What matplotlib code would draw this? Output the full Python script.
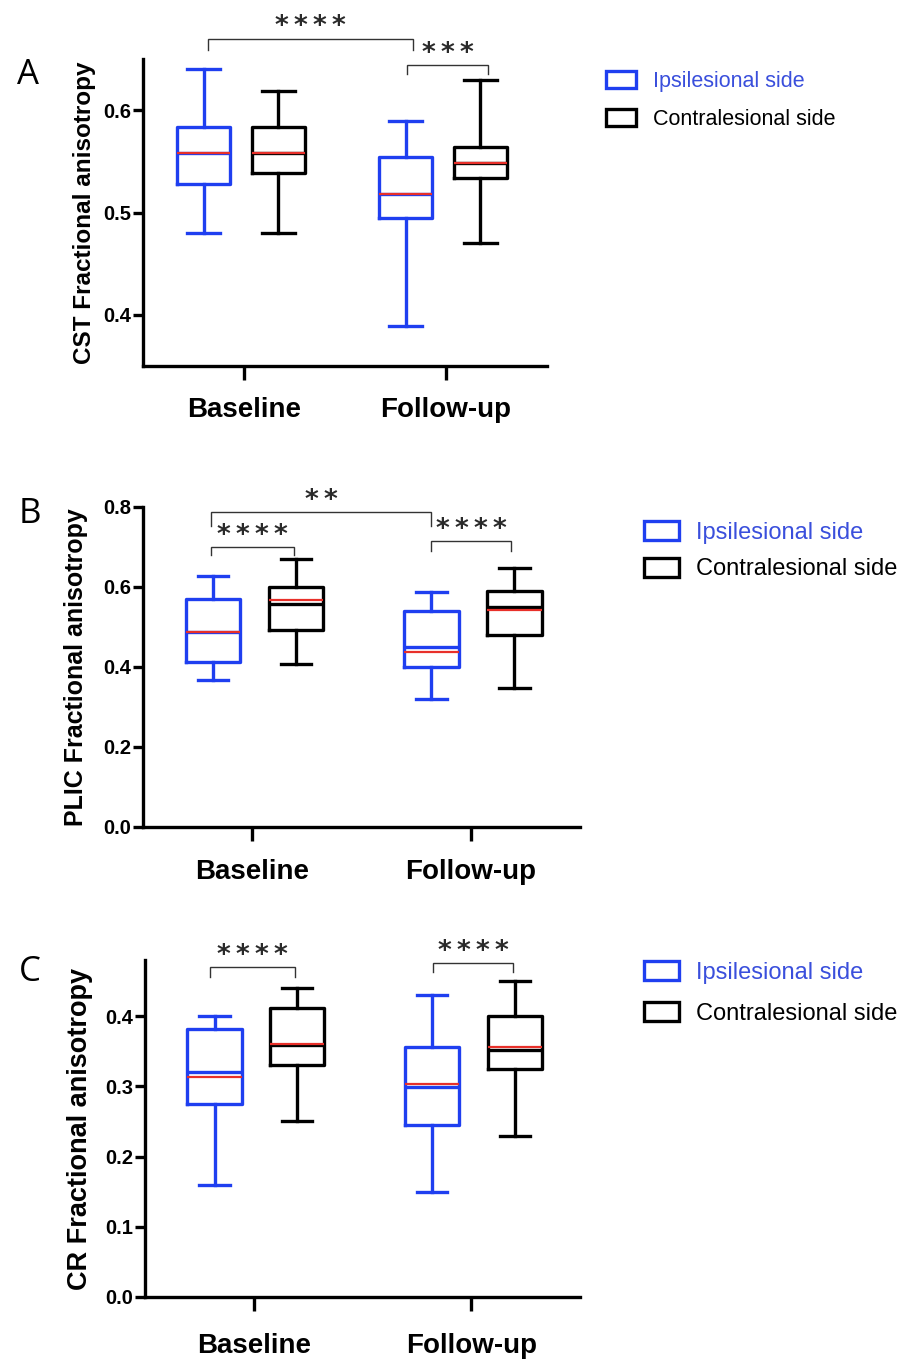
import matplotlib
matplotlib.use('Agg')
import matplotlib.pyplot as plt
from matplotlib.patches import Patch

plt.rcParams['font.family'] = ['Liberation Sans', 'DejaVu Sans']

groups = ['Baseline', 'Follow-up']
sides = ['Ipsilesional side', 'Contralesional side']

# ---- Panel A: CST fractional anisotropy (values for Baseline, Follow-up)
a_ipsi_whislo = [0.480, 0.389]
a_ipsi_q1 = [0.528, 0.495]
a_ipsi_med = [0.558, 0.518]
a_ipsi_mean = [0.558, 0.518]
a_ipsi_q3 = [0.584, 0.554]
a_ipsi_whishi = [0.640, 0.589]
a_con_whislo = [0.480, 0.470]
a_con_q1 = [0.539, 0.534]
a_con_med = [0.558, 0.548]
a_con_mean = [0.558, 0.548]
a_con_q3 = [0.584, 0.564]
a_con_whishi = [0.619, 0.629]

# ---- Panel B: PLIC fractional anisotropy
b_ipsi_whislo = [0.368, 0.320]
b_ipsi_q1 = [0.413, 0.400]
b_ipsi_med = [0.488, 0.450]
b_ipsi_mean = [0.488, 0.438]
b_ipsi_q3 = [0.570, 0.540]
b_ipsi_whishi = [0.628, 0.588]
b_con_whislo = [0.408, 0.348]
b_con_q1 = [0.493, 0.480]
b_con_med = [0.558, 0.550]
b_con_mean = [0.568, 0.543]
b_con_q3 = [0.600, 0.590]
b_con_whishi = [0.670, 0.648]

# ---- Panel C: CR fractional anisotropy
c_ipsi_whislo = [0.160, 0.150]
c_ipsi_q1 = [0.275, 0.245]
c_ipsi_med = [0.321, 0.299]
c_ipsi_mean = [0.313, 0.303]
c_ipsi_q3 = [0.382, 0.356]
c_ipsi_whishi = [0.400, 0.430]
c_con_whislo = [0.250, 0.230]
c_con_q1 = [0.330, 0.325]
c_con_med = [0.359, 0.352]
c_con_mean = [0.360, 0.356]
c_con_q3 = [0.412, 0.400]
c_con_whishi = [0.440, 0.450]

# significance brackets: (x_left, x_right, y_bar, y_tip, label)
a_sig = [(0.82, 1.837, 0.670, 0.659, '****'), (1.807, 2.208, 0.644, 0.635, '***')]
b_sig = [(0.81, 1.82, 0.7875, 0.752, '**'), (0.81, 1.19, 0.700, 0.680, '****'),
         (1.82, 2.185, 0.715, 0.690, '****')]
c_sig = [(0.80, 1.19, 0.470, 0.456, '****'), (1.825, 2.19, 0.476, 0.463, '****')]

panels = [
    dict(letter='A', ylabel='CST Fractional anisotropy',
         ipsi=(a_ipsi_whislo, a_ipsi_q1, a_ipsi_med, a_ipsi_mean, a_ipsi_q3, a_ipsi_whishi),
         con=(a_con_whislo, a_con_q1, a_con_med, a_con_mean, a_con_q3, a_con_whishi),
         sig=a_sig, ylim=(0.35, 0.65), yticks=[0.4, 0.5, 0.6],
         rect=[143/917, 1-366/1359, 404/917, 307/1359],
         off=(-0.20, 0.17), width=0.26, cap=0.16, ylsize=17.5, ylx=-0.117, xpad=12,
         leg=dict(anchor=(606/917, 1-71/1359), fs=15.5, hl=1.40, hh=0.85, htp=0.78, ls=0.78),
         letter_xy=(28/917, 1-75/1359)),
    dict(letter='B', ylabel='PLIC Fractional anisotropy',
         ipsi=(b_ipsi_whislo, b_ipsi_q1, b_ipsi_med, b_ipsi_mean, b_ipsi_q3, b_ipsi_whishi),
         con=(b_con_whislo, b_con_q1, b_con_med, b_con_mean, b_con_q3, b_con_whishi),
         sig=b_sig, ylim=(0.0, 0.8), yticks=[0.0, 0.2, 0.4, 0.6, 0.8],
         rect=[143/917, 1-827/1359, 437/917, 320/1359],
         off=(-0.18, 0.20), width=0.25, cap=0.14, ylsize=18, ylx=-0.125, xpad=13,
         leg=dict(anchor=(644/917, 1-521/1359), fs=17, hl=1.48, hh=0.85, htp=0.72, ls=0.6),
         letter_xy=(30/917, 1-514/1359)),
    dict(letter='C', ylabel='CR Fractional anisotropy',
         ipsi=(c_ipsi_whislo, c_ipsi_q1, c_ipsi_med, c_ipsi_mean, c_ipsi_q3, c_ipsi_whishi),
         con=(c_con_whislo, c_con_q1, c_con_med, c_con_mean, c_con_q3, c_con_whishi),
         sig=c_sig, ylim=(0.0, 0.48), yticks=[0.0, 0.1, 0.2, 0.3, 0.4],
         rect=[145/917, 1-1297/1359, 435/917, 337/1359],
         off=(-0.18, 0.20), width=0.25, cap=0.14, ylsize=19.5, ylx=-0.12, xpad=16,
         leg=dict(anchor=(644/917, 1-961/1359), fs=17, hl=1.48, hh=0.85, htp=0.72, ls=0.8),
         letter_xy=(30/917, 1-972/1359)),
]

BLUE = '#1f3ff0'
BLUE_TXT = '#3a4fdc'
BLACK = '#000000'
RED = '#e8302a'
LW = 2.4

fig = plt.figure(figsize=(9.17, 13.59), dpi=100)

def stats_list(vals):
    whislo, q1, med, mean, q3, whishi = vals
    out = []
    for i in range(len(groups)):
        out.append(dict(whislo=whislo[i], q1=q1[i], med=med[i], mean=mean[i],
                        q3=q3[i], whishi=whishi[i], fliers=[]))
    return out

for p in panels:
    ax = fig.add_axes(p['rect'])
    for key, color, off in (('ipsi', BLUE, p['off'][0]), ('con', BLACK, p['off'][1])):
        st = stats_list(p[key])
        pos = [i + 1 + off for i in range(len(groups))]
        ax.bxp(st, positions=pos, widths=p['width'], capwidths=p['cap'],
               showfliers=False, showmeans=True, meanline=True, patch_artist=False,
               boxprops=dict(color=color, linewidth=LW),
               whiskerprops=dict(color=color, linewidth=LW),
               capprops=dict(color=color, linewidth=LW),
               medianprops=dict(color=color, linewidth=LW),
               meanprops=dict(color=RED, linewidth=1.6, linestyle='-'))
    ax.set_xlim(0.5, 2.5)
    ax.set_ylim(*p['ylim'])
    ax.set_yticks(p['yticks'])
    ax.set_yticklabels([f'{v:.1f}' for v in p['yticks']])
    ax.set_xticks([1, 2])
    ax.set_xticklabels(groups)
    for s in ('top', 'right'):
        ax.spines[s].set_visible(False)
    for s in ('left', 'bottom'):
        ax.spines[s].set_linewidth(LW)
        ax.spines[s].set_capstyle('projecting')
    ax.tick_params(axis='y', length=7, width=LW, labelsize=14.5, pad=1.5)
    ax.tick_params(axis='x', length=10, width=LW, labelsize=20, pad=p['xpad'])
    for lab in ax.get_yticklabels() + ax.get_xticklabels():
        lab.set_fontweight('bold')
    ax.set_ylabel(p['ylabel'], fontsize=p['ylsize'], fontweight='bold')
    ax.yaxis.set_label_coords(p['ylx'], 0.5)
    for x1, x2, yb, yt, lab in p['sig']:
        ax.plot([x1, x1, x2, x2], [yt, yb, yb, yt], color='#333333', lw=1.0,
                clip_on=False, solid_joinstyle='miter')
        ax.annotate('\u2009'.join(lab), xy=((x1 + x2) / 2, yb), xytext=(0, 3),
                    textcoords='offset points', ha='center', va='baseline',
                    fontsize=19, family='DejaVu Sans', fontweight='bold',
                    color='#2a2a2a', annotation_clip=False)
    lg = p['leg']
    handles = [Patch(facecolor='white', edgecolor=BLUE, linewidth=LW, label=sides[0]),
               Patch(facecolor='white', edgecolor=BLACK, linewidth=LW, label=sides[1])]
    fig.legend(handles=handles, loc='upper left', bbox_to_anchor=lg['anchor'],
               bbox_transform=fig.transFigure, frameon=False, borderpad=0,
               borderaxespad=0, fontsize=lg['fs'], handlelength=lg['hl'],
               handleheight=lg['hh'], handletextpad=lg['htp'], labelspacing=lg['ls'],
               labelcolor=[BLUE_TXT, BLACK])
    fig.text(p['letter_xy'][0], p['letter_xy'][1], p['letter'], fontsize=25,
             ha='center', va='center', family='Open Sans')

fig.savefig('out.png', dpi=100)
